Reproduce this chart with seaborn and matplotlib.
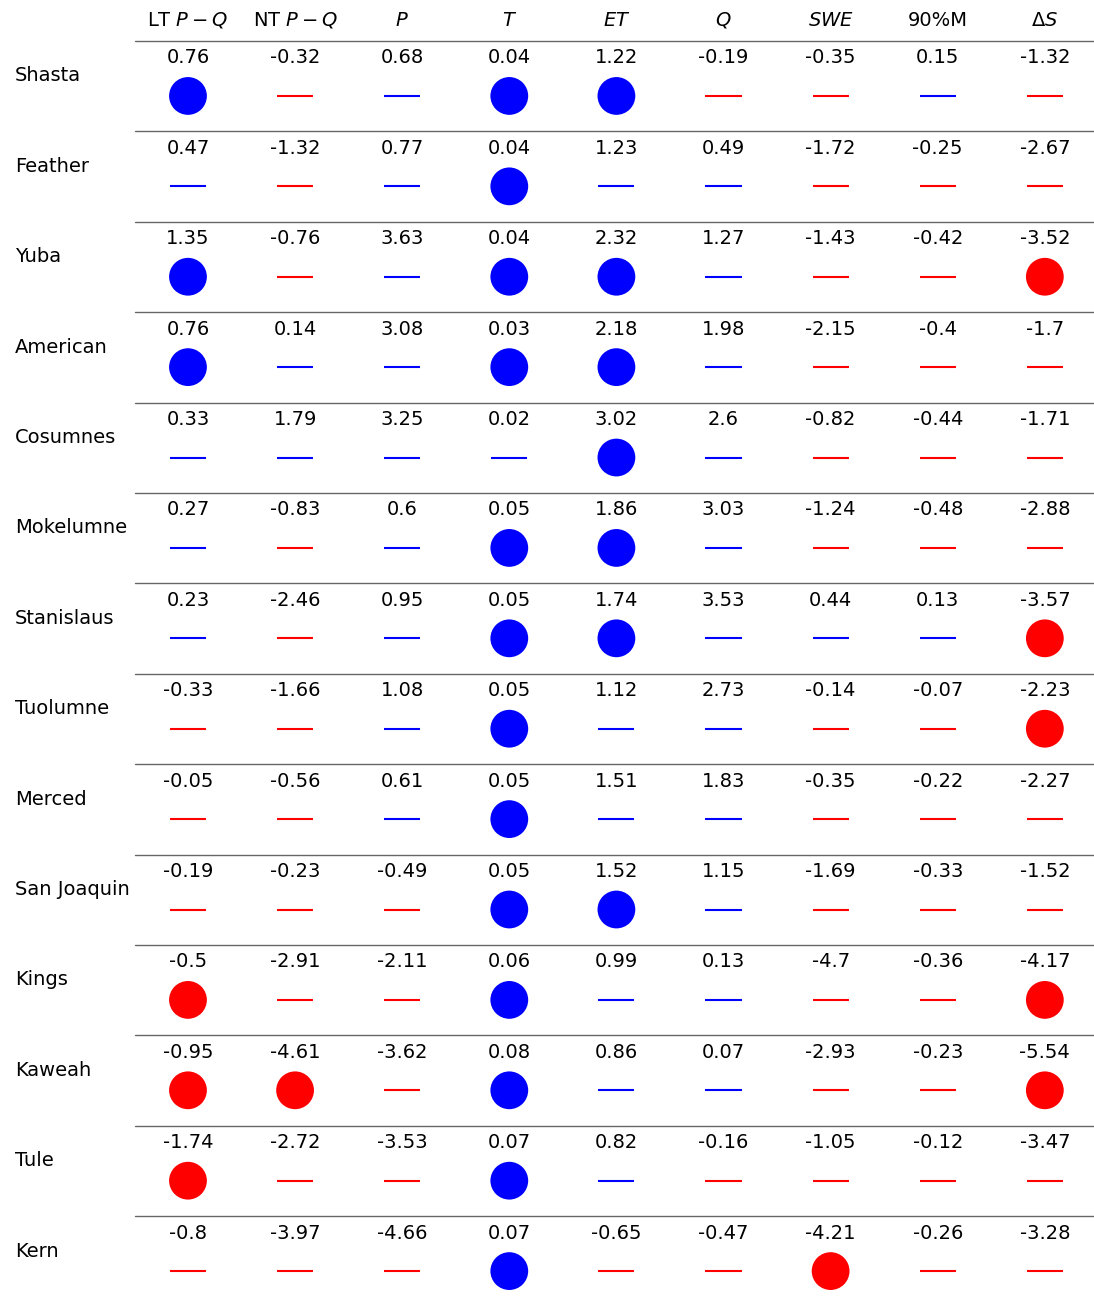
import numpy as np
import pandas as pd
import matplotlib
matplotlib.use("Agg")
import matplotlib.pyplot as plt
import seaborn as sns

basins = ["Shasta", "Feather", "Yuba", "American", "Cosumnes", "Mokelumne",
          "Stanislaus", "Tuolumne", "Merced", "San Joaquin", "Kings",
          "Kaweah", "Tule", "Kern"]

variables = ["LT $P-Q$", "NT $P-Q$", "$P$", "$T$", "$ET$", "$Q$", "$SWE$",
             "90%M", r"$\Delta S$"]

trend_values = [
    [0.76, -0.32, 0.68, 0.04, 1.22, -0.19, -0.35, 0.15, -1.32],
    [0.47, -1.32, 0.77, 0.04, 1.23, 0.49, -1.72, -0.25, -2.67],
    [1.35, -0.76, 3.63, 0.04, 2.32, 1.27, -1.43, -0.42, -3.52],
    [0.76, 0.14, 3.08, 0.03, 2.18, 1.98, -2.15, -0.4, -1.7],
    [0.33, 1.79, 3.25, 0.02, 3.02, 2.6, -0.82, -0.44, -1.71],
    [0.27, -0.83, 0.6, 0.05, 1.86, 3.03, -1.24, -0.48, -2.88],
    [0.23, -2.46, 0.95, 0.05, 1.74, 3.53, 0.44, 0.13, -3.57],
    [-0.33, -1.66, 1.08, 0.05, 1.12, 2.73, -0.14, -0.07, -2.23],
    [-0.05, -0.56, 0.61, 0.05, 1.51, 1.83, -0.35, -0.22, -2.27],
    [-0.19, -0.23, -0.49, 0.05, 1.52, 1.15, -1.69, -0.33, -1.52],
    [-0.5, -2.91, -2.11, 0.06, 0.99, 0.13, -4.7, -0.36, -4.17],
    [-0.95, -4.61, -3.62, 0.08, 0.86, 0.07, -2.93, -0.23, -5.54],
    [-1.74, -2.72, -3.53, 0.07, 0.82, -0.16, -1.05, -0.12, -3.47],
    [-0.8, -3.97, -4.66, 0.07, -0.65, -0.47, -4.21, -0.26, -3.28],
]

# 1 = statistically significant trend (drawn as a filled circle)
significant = [
    [1, 0, 0, 1, 1, 0, 0, 0, 0],
    [0, 0, 0, 1, 0, 0, 0, 0, 0],
    [1, 0, 0, 1, 1, 0, 0, 0, 1],
    [1, 0, 0, 1, 1, 0, 0, 0, 0],
    [0, 0, 0, 0, 1, 0, 0, 0, 0],
    [0, 0, 0, 1, 1, 0, 0, 0, 0],
    [0, 0, 0, 1, 1, 0, 0, 0, 1],
    [0, 0, 0, 1, 0, 0, 0, 0, 1],
    [0, 0, 0, 1, 0, 0, 0, 0, 0],
    [0, 0, 0, 1, 1, 0, 0, 0, 0],
    [1, 0, 0, 1, 0, 0, 0, 0, 1],
    [1, 1, 0, 1, 0, 0, 0, 0, 1],
    [1, 0, 0, 1, 0, 0, 0, 0, 0],
    [0, 0, 0, 1, 0, 0, 1, 0, 0],
]

# long-form table
records = []
for r, basin in enumerate(basins):
    for c, var in enumerate(variables):
        v = trend_values[r][c]
        records.append({"row": r, "col": c, "value": v,
                        "sig": bool(significant[r][c]),
                        "sign": "pos" if v > 0 else "neg"})
df = pd.DataFrame(records)

# vertical offsets within each row band (row band height = 1)
text_off = 0.188
mark_off = 0.608
label_off = 0.387
df["y_text"] = df["row"] + text_off
df["y_mark"] = df["row"] + mark_off

palette = {"pos": "#0000ff", "neg": "#ff0000"}

sns.set_theme(style="white")
plt.rcParams["font.family"] = ["DejaVu Sans"]
plt.rcParams["mathtext.fontset"] = "dejavusans"

fig = plt.figure(figsize=(10.94, 13.02), dpi=100)
ax = fig.add_axes([0, 0, 1, 1])

# significant trends: filled circles
sns.scatterplot(data=df[df["sig"]], x="col", y="y_mark", hue="sign",
                palette=palette, s=740, marker="o", linewidth=0,
                legend=False, ax=ax)
# non-significant trends: short dashes
sns.scatterplot(data=df[~df["sig"]], x="col", y="y_mark", hue="sign",
                palette=palette, s=26 ** 2, marker="_", linewidth=1.5,
                legend=False, ax=ax)

for _, rec in df.iterrows():
    ax.text(rec["col"], rec["y_text"], f"{rec['value']:g}", ha="center",
            va="center", fontsize=14, color="black")

for r, basin in enumerate(basins):
    ax.text(-1.615, r + label_off, basin, ha="left", va="center",
            fontsize=14, color="black")

for c, var in enumerate(variables):
    ax.text(c, -0.232, var, ha="center", va="center", fontsize=14,
            color="black")

# row separators
for r in range(len(basins)):
    ax.axhline(r, xmin=(-0.495 + 1.755) / (8.459 + 1.755), xmax=1,
               color="#666666", linewidth=1.0)

ax.set_xlim(-1.755, 8.459)
ax.set_ylim(13.95, -0.4535)
ax.axis("off")

fig.savefig("out.png", dpi=100)
